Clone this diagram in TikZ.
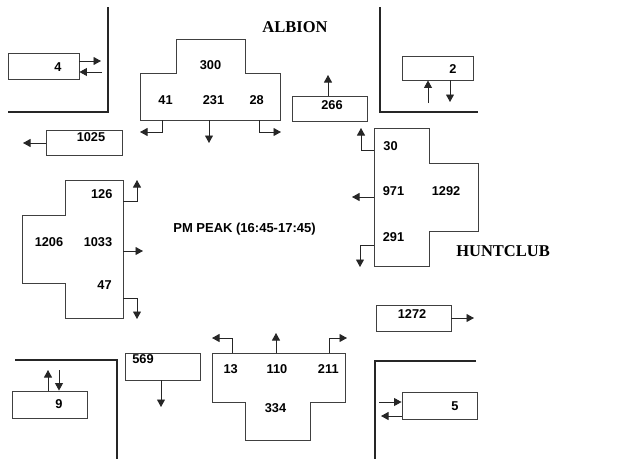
\documentclass[tikz,border=0pt]{standalone}
\usepackage{fontspec}
\setmainfont{Liberation Serif}
\newfontfamily\arialfont{Liberation Sans}
\usetikzlibrary{arrows.meta}
\begin{document}
\begin{tikzpicture}[x=1pt,y=-1pt,
  road/.style={line width=2.6pt,black!85},
  outline/.style={draw=black!75,line width=0.9pt},
  box/.style={draw=black!75,line width=0.9pt,inner sep=0pt},
  num/.style={inner sep=0pt,font=\arialfont\bfseries\fontsize{12.8}{14}\selectfont},
  street/.style={inner sep=0pt,font=\bfseries\fontsize{16.5}{18}\selectfont},
  arr/.style={line width=0.9pt,black!85,-{Triangle[length=7.5pt,width=8pt]}}]
\useasboundingbox (0,0) rectangle (620,459);

% road corners
\draw[road] (8,112) -- (108,112) -- (108,7);
\draw[road] (380,7) -- (380,112) -- (478,112);
\draw[road] (15,360) -- (117,360) -- (117,459);
\draw[road] (476,361) -- (375,361) -- (375,459);

% street labels
\node[street] (albion) at (295,27) {ALBION};
\node[street] (huntclub) at (503,251) {HUNTCLUB};
\node[inner sep=0pt,font=\arialfont\bfseries\fontsize{13}{15}\selectfont] (peak) at (244.5,229) {PM PEAK (16:45-17:45)};

% small boxes
\node[box,minimum width=71pt,minimum height=26pt] (b4) at (43.5,66) {};
\node[num] (t4) at (58,67) {4};
\node[box,minimum width=76pt,minimum height=25pt] (b1025) at (84,142.5) {};
\node[num] (t1025) at (91,137.5) {1025};
\node[box,minimum width=75pt,minimum height=25pt] (b266) at (329.5,108.5) {};
\node[num] (t266) at (332,105) {266};
\node[box,minimum width=71pt,minimum height=24pt] (b2) at (437.5,68) {};
\node[num] (t2) at (453,69) {2};
\node[box,minimum width=75pt,minimum height=26pt] (b1272) at (413.5,318) {};
\node[num] (t1272) at (412,314.5) {1272};
\node[box,minimum width=75pt,minimum height=27pt] (b569) at (162.5,366.5) {};
\node[num] (t569) at (143,359.5) {569};
\node[box,minimum width=75pt,minimum height=27pt] (b9) at (49.5,404.5) {};
\node[num] (t9) at (59,404) {9};
\node[box,minimum width=75pt,minimum height=27pt] (b5) at (439.5,405.5) {};
\node[num] (t5) at (455,406) {5};

% free ends of the box arrows
\coordinate (e4o) at (101,61);
\coordinate (e4i) at (102,72);
\coordinate (e1025) at (23,143);
\coordinate (e266) at (328,75);
\coordinate (e2u) at (428,103);
\coordinate (e2d) at (450,102);
\coordinate (e1272) at (474,318);
\coordinate (e569) at (161,407);
\coordinate (e9u) at (48,370);
\coordinate (e9d) at (59,370);
\coordinate (e5i) at (379,402);
\coordinate (e5o) at (381,416);

\draw[arr] (b4.east |- e4o) -- (e4o);
\draw[arr] (e4i) -- (b4.east |- e4i);
\draw[arr] (b1025.west |- e1025) -- (e1025);
\draw[arr] (b266.north -| e266) -- (e266);
\draw[arr] (e2u) -- (b2.south -| e2u);
\draw[arr] (b2.south -| e2d) -- (e2d);
\draw[arr] (b1272.east |- e1272) -- (e1272);
\draw[arr] (b569.south -| e569) -- (e569);
\draw[arr] (b9.north -| e9u) -- (e9u);
\draw[arr] (e9d) -- (b9.north -| e9d);
\draw[arr] (e5i) -- (b5.west |- e5i);
\draw[arr] (b5.west |- e5o) -- (e5o);

% top T shape (Albion southbound approach)
\draw[outline] (140,73) -- (176,73) -- (176,39) -- (245,39) -- (245,73) -- (280,73) -- (280,120) -- (140,120) -- cycle;
\node[num] (t300) at (210.5,65.5) {300};
\node[num] (t41) at (165.5,100) {41};
\node[num] (t231) at (213.5,100) {231};
\node[num] (t28) at (256.7,100) {28};
\draw[arr] (162,120) -- (162,132) -- (140,132);
\draw[arr] (209,120) -- (209,143);
\draw[arr] (259,120) -- (259,132) -- (281,132);

% right shape (Huntclub westbound approach)
\draw[outline] (374,128) -- (429,128) -- (429,163) -- (478,163) -- (478,231) -- (429,231) -- (429,266) -- (374,266) -- cycle;
\node[num] (t30) at (390.5,146) {30};
\node[num] (t971) at (393.5,191) {971};
\node[num] (t1292) at (446,191) {1292};
\node[num] (t291) at (393.5,237.5) {291};
\draw[arr] (374,150) -- (361,150) -- (361,128);
\draw[arr] (374,197) -- (352,197);
\draw[arr] (374,245) -- (360,245) -- (360,267);

% left shape (Huntclub eastbound approach)
\draw[outline] (65,180) -- (123,180) -- (123,318) -- (65,318) -- (65,283) -- (22,283) -- (22,215) -- (65,215) -- cycle;
\node[num] (t126) at (101.7,194.5) {126};
\node[num] (t1206) at (49,242) {1206};
\node[num] (t1033) at (98,242) {1033};
\node[num] (t47) at (104.5,285.5) {47};
\draw[arr] (123,201) -- (137,201) -- (137,180);
\draw[arr] (123,251) -- (143,251);
\draw[arr] (123,298) -- (137,298) -- (137,319);

% bottom T shape (Albion northbound approach)
\draw[outline] (212,353) -- (345,353) -- (345,402) -- (310,402) -- (310,440) -- (245,440) -- (245,402) -- (212,402) -- cycle;
\node[num] (t13) at (230.7,369) {13};
\node[num] (t110) at (277,369) {110};
\node[num] (t211) at (328.3,369) {211};
\node[num] (t334) at (275.5,408) {334};
\draw[arr] (232,353) -- (232,338) -- (212,338);
\draw[arr] (276,353) -- (276,333);
\draw[arr] (329,353) -- (329,338) -- (347,338);
\end{tikzpicture}
\end{document}
